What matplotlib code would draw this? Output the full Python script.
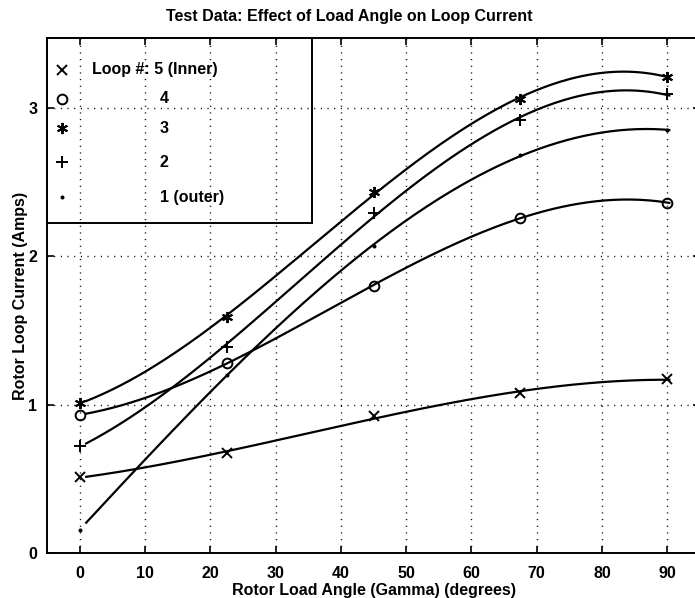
import numpy as np
import matplotlib
matplotlib.use('Agg')
import matplotlib.pyplot as plt
from matplotlib.patches import Rectangle

plt.rcParams['font.family'] = ['Liberation Sans', 'DejaVu Sans']
plt.rcParams['font.size'] = 11.5
plt.rcParams['font.weight'] = 'bold'
plt.rcParams['axes.labelweight'] = 'bold'

# Measured loop currents at each rotor load angle
gamma = [0, 22.5, 45, 67.5, 90]
loop5 = [0.51, 0.675, 0.92, 1.08, 1.17]
loop4 = [0.93, 1.28, 1.80, 2.26, 2.36]
loop3 = [1.01, 1.59, 2.43, 3.06, 3.21]
loop2 = [0.72, 1.39, 2.29, 2.92, 3.09]
loop1 = [0.155, 1.20, 2.07, 2.68, 2.85]

loops = [loop5, loop4, loop3, loop2, loop1]
markers = ['x', 'o', (6, 2, 0), '+', '.']
msizes = [7, 7, 8, 9, 3]
labels = ['Loop #: 5 (Inner)', '4', '3', '2', '1 (outer)']

fig = plt.figure(figsize=(6.95, 5.98), dpi=100)
ax = fig.add_axes([47 / 695, 45 / 598, 653 / 695, 515 / 598])

# cubic least-squares fit through each loop's data
xfit = np.linspace(1, 90.3, 200)
for vals, mk, ms in zip(loops, markers, msizes):
    p = np.polyfit(gamma, vals, 3)
    ax.plot(xfit, np.polyval(p, xfit), color='black', lw=1.6)
    ax.plot(gamma, vals, linestyle='none', marker=mk, ms=ms, mew=1.4,
            mfc='none' if mk == 'o' else 'black', mec='black')

ax.set_xlim(-5, 95)
ax.set_ylim(0, 3.47)
ax.set_xticks(range(0, 100, 10))
ax.set_yticks([0, 1, 2, 3])
ax.grid(True, color='black', linestyle=(0, (0.8, 4.0)), linewidth=1.0)
ax.tick_params(direction='in', length=5, width=1.2, top=True, right=True, labelsize=11.5)
ax.tick_params(axis='x', pad=9)
ax.tick_params(axis='y', pad=7)
for sp in ax.spines.values():
    sp.set_linewidth(1.4)

ax.set_xlabel('Rotor Load Angle (Gamma) (degrees)', labelpad=2)
ax.set_ylabel('Rotor Loop Current (Amps)', labelpad=0)
fig.text(0.503, 0.972, 'Test Data: Effect of Load Angle on Loop Current',
         ha='center', va='center', fontsize=11.5)

# key box in the upper left corner
ax.add_patch(Rectangle((0, 0.641), 0.406, 0.359, transform=ax.transAxes,
                       fill=False, lw=1.4, ec='black', clip_on=False))
rows_y = [0.938, 0.882, 0.825, 0.759, 0.691]
for i, (mk, ms, lab, ry) in enumerate(zip(markers, msizes, labels, rows_y)):
    ax.plot([0.023], [ry], transform=ax.transAxes, linestyle='none', marker=mk,
            ms=ms, mew=1.4, mfc='none' if mk == 'o' else 'black', mec='black')
    tx = 0.069 if i == 0 else 0.173
    ax.text(tx, ry, lab, transform=ax.transAxes, va='center', ha='left')

fig.savefig('out.png', dpi=100)
